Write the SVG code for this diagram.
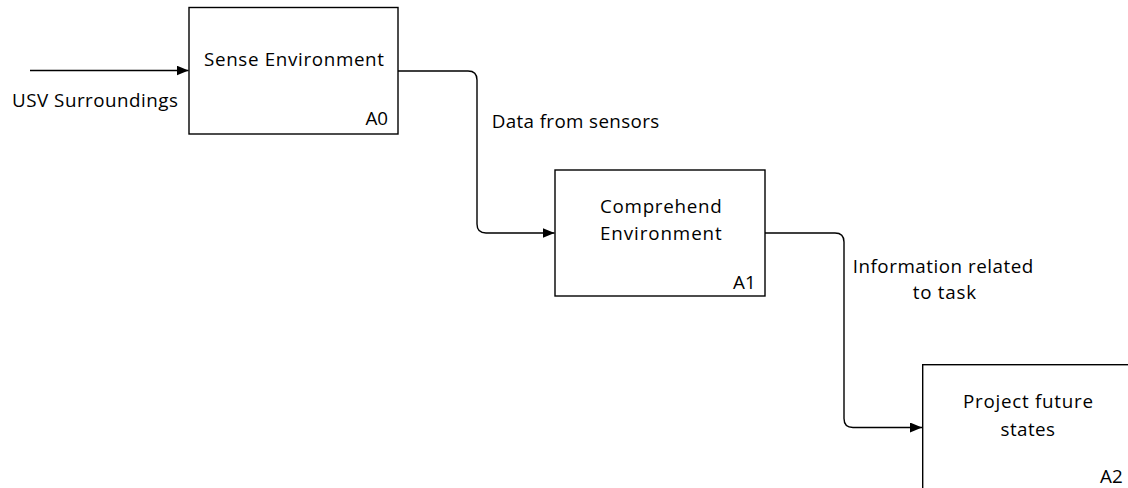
<svg xmlns="http://www.w3.org/2000/svg" width="1128" height="488" viewBox="0 0 1128 488">
<style>
.box{fill:#fff;stroke:#000;stroke-width:1.4}
.ln{fill:none;stroke:#000;stroke-width:1.4}
text{font-family:"Open Sans","Noto Sans","Liberation Sans",sans-serif;font-size:18.8px;fill:#000}
</style>
<defs>
<marker id="ah" markerUnits="userSpaceOnUse" markerWidth="13" markerHeight="11" refX="12" refY="5" orient="auto">
<path d="M0,0 L12,5 L0,10 Z" fill="#000"/>
</marker>
</defs>
<rect width="1128" height="488" fill="#fff"/>
<g id="connectors">
<path class="ln" d="M30,70.5 H188.5" marker-end="url(#ah)"/>
<path class="ln" d="M398,71 H468 Q477,71 477,80 V224 Q477,233 486,233 H554.5" marker-end="url(#ah)"/>
<path class="ln" d="M765,233 H835 Q844,233 844,242 V418.5 Q844,427.5 853,427.5 H922" marker-end="url(#ah)"/>
</g>
<g id="label-usv">
<text x="12" y="106.7" textLength="166">USV Surroundings</text>
</g>
<g id="label-data">
<text x="491.7" y="128.3" textLength="167.5">Data from sensors</text>
</g>
<g id="label-info">
<text x="852.7" y="273.3" textLength="180.6">Information related</text>
<text x="912.7" y="298.5" textLength="63.3">to task</text>
</g>
<g id="A0">
<rect class="box" x="189" y="7.5" width="209" height="126.5"/>
<text x="204" y="65.7" textLength="180">Sense Environment</text>
<text x="388" y="125" text-anchor="end">A0</text>
</g>
<g id="A1">
<rect class="box" x="555" y="170" width="210" height="126"/>
<text x="600" y="213.3" textLength="121.7">Comprehend</text>
<text x="600" y="240.3" textLength="121.7">Environment</text>
<text x="755.7" y="289.3" text-anchor="end">A1</text>
</g>
<g id="A2">
<rect class="box" x="922.7" y="364.7" width="210" height="126"/>
<text x="963" y="408" textLength="130">Project future</text>
<text x="1000.5" y="436" textLength="54.5">states</text>
<text x="1122.7" y="482.7" text-anchor="end">A2</text>
</g>
</svg>
